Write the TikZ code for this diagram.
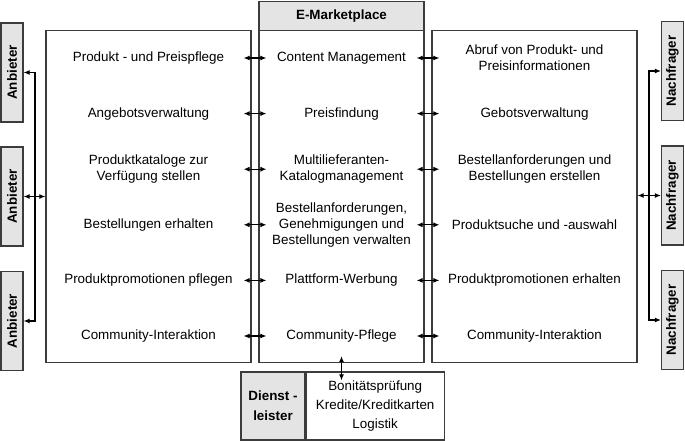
\documentclass[tikz,border=0pt]{standalone}
\usepackage{fontspec}
\setmainfont{Liberation Sans}
\usepackage{xcolor}
\usepackage{tikz}
\usetikzlibrary{arrows.meta, positioning}
\definecolor{boxgray}{RGB}{228,228,228}
\definecolor{linegray}{RGB}{60,60,60}
\newcommand{\fs}{\fontsize{13.4}{16}\selectfont}

\begin{document}
\begin{tikzpicture}[x=1pt, y=-1pt, every node/.style={font=\fs, inner sep=0pt},
    frame/.style={draw=linegray, line width=1.2pt},
    actor/.style={frame, fill=boxgray, minimum width=22pt, minimum height=99pt},
    txt/.style={align=center},
    dblarr/.style={{Latex[length=6pt,width=5pt]}-{Latex[length=6pt,width=5pt]}, line width=1.1pt},
    onearr/.style={-{Latex[length=6pt,width=5pt]}, line width=1.1pt}]
    \useasboundingbox (0,0) rectangle (685,441);
    % Three columns
    \node[frame, minimum width=205pt, minimum height=332pt] (lbox) at (148.5,196.5) {};
    \node[frame, minimum width=165pt, minimum height=332pt] (mbox) at (341.5,196.5) {};
    \node[frame, fill=boxgray, minimum width=165pt, minimum height=29pt, font=\fs\bfseries] (head) at (341.5,16) {E-Marketplace};
    \node[frame, minimum width=205pt, minimum height=332pt] (rbox) at (534.5,196.5) {};
    % Row labels
    \foreach \t [count=\i] in {{Produkt - und Preispflege}, Angebotsverwaltung, {Produktkataloge zur\\Verfügung stellen}, {Bestellungen erhalten}, {Produktpromotionen pflegen}, Community-Interaktion} {
        \node[txt] (l\i) at (148.5,{58+(\i-1)*55.6}) {\t};
    }
    \foreach \t [count=\i] in {{Content Management}, Preisfindung, {Multilieferanten-\\Katalogmanagement}, {Bestellanforderungen,\\Genehmigungen und\\Bestellungen verwalten}, Plattform-Werbung, Community-Pflege} {
        \node[txt] (m\i) at (341.5,{58+(\i-1)*55.6}) {\t};
    }
    \foreach \t [count=\i] in {{Abruf von Produkt- und\\Preisinformationen}, Gebotsverwaltung, {Bestellanforderungen und\\Bestellungen erstellen}, {Produktsuche und -auswahl}, {Produktpromotionen erhalten}, Community-Interaktion} {
        \node[txt] (r\i) at (534.5,{58+(\i-1)*55.6}) {\t};
    }
    % Arrows between the columns
    \foreach \i in {1,...,6} {
        \draw[dblarr, shorten <=-8pt, shorten >=-8pt] (lbox.east |- m\i) -- (mbox.west |- m\i);
        \draw[dblarr, shorten <=-8pt, shorten >=-8pt] (mbox.east |- m\i) -- (rbox.west |- m\i);
    }
    % Anbieter
    \node[actor] (anb1) at (12,72.5) {\rotatebox{90}{\bfseries Anbieter}};
    \node[actor] (anb2) at (12,196.5) {\rotatebox{90}{\bfseries Anbieter}};
    \node[actor] (anb3) at (12,321) {\rotatebox{90}{\bfseries Anbieter}};
    \coordinate (lsplit) at (35,196.5);
    \draw[dblarr] (anb2.east) -- (lbox.west |- anb2.east);
    \draw[onearr] (lsplit) |- (anb1.east);
    \draw[onearr] (lsplit) |- (anb3.east);
    % Nachfrager
    \node[actor] (nf1) at (672.5,71) {\rotatebox{90}{\bfseries Nachfrager}};
    \node[actor] (nf2) at (672.5,195.5) {\rotatebox{90}{\bfseries Nachfrager}};
    \node[actor] (nf3) at (672.5,320) {\rotatebox{90}{\bfseries Nachfrager}};
    \coordinate (rsplit) at (649,195.5);
    \draw[dblarr] (rbox.east |- nf2.west) -- (nf2.west);
    \draw[onearr] (rsplit) |- (nf1.west);
    \draw[onearr] (rsplit) |- (nf3.west);
    % Dienstleister
    \node[frame, fill=boxgray, minimum width=64pt, minimum height=68pt, align=center, font=\fontsize{13.4}{20}\selectfont\bfseries] (dl) at (273,406) {Dienst -\\leister};
    \node[frame, minimum width=138pt, minimum height=68pt, anchor=west, align=center, font=\fontsize{13.4}{19}\selectfont] (dlx) at (dl.east) {Bonitätsprüfung\\Kredite/Kreditkarten\\Logistik};
    \draw[dblarr, shorten <=-7pt, shorten >=-9pt] (mbox.south) -- (mbox.south |- dlx.north);
\end{tikzpicture}
\end{document}
